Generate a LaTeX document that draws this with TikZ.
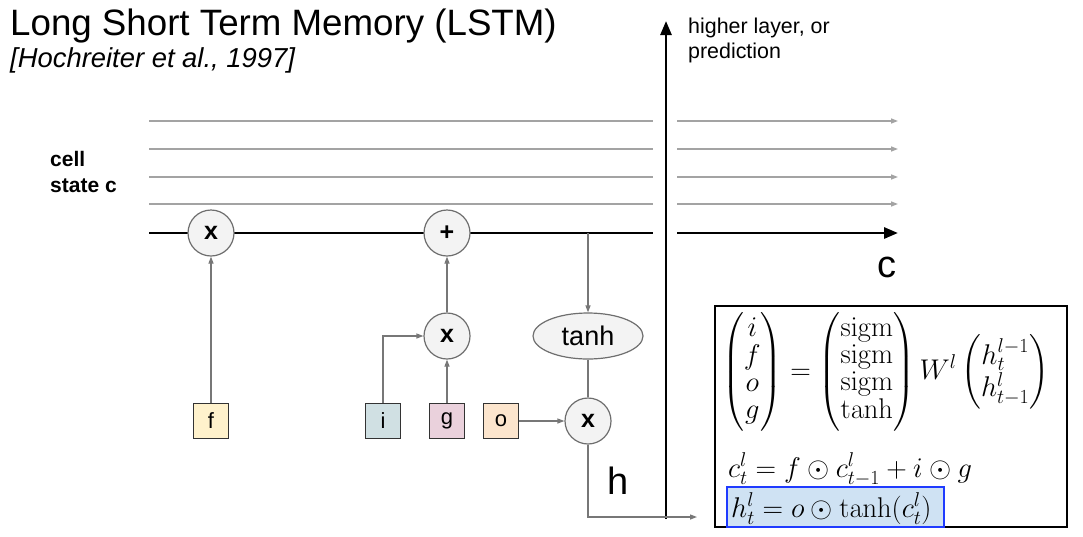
\RequirePackage{fix-cm}
\documentclass[tikz,border=0pt]{standalone}
\usepackage{amsmath}
\usepackage[no-math]{fontspec}
\setmainfont{Liberation Sans}
\usetikzlibrary{arrows.meta,shapes.geometric}
\definecolor{cgray}{HTML}{777777}
\definecolor{lgray}{HTML}{A3A3A3}
\definecolor{nodefill}{HTML}{F3F3F3}
\definecolor{nodeedge}{HTML}{6E6E6E}
\definecolor{fcol}{HTML}{FFF2CC}
\definecolor{icol}{HTML}{D0E0E3}
\definecolor{gcol}{HTML}{EAD1DC}
\definecolor{ocol}{HTML}{FCE5CD}
\definecolor{hlfill}{HTML}{CFE2F3}
\definecolor{hlblue}{HTML}{1F3BFF}
\tikzset{
  op/.style={circle, draw=nodeedge, line width=1.2, fill=nodefill, minimum size=46, inner sep=0, font=\fontsize{25}{30}\selectfont\bfseries},
  fn/.style={ellipse, draw=nodeedge, line width=1.2, fill=nodefill, minimum width=110, minimum height=46, inner sep=0, font=\fontsize{27}{30}\selectfont},
  gate/.style={rectangle, draw=black!80, line width=1.5, minimum width=35, minimum height=35, inner sep=0, font=\fontsize{22}{26}\selectfont},
  conn/.style={draw=cgray, line width=1.2, -{Triangle[length=7,width=5]}},
  plainconn/.style={draw=cgray, line width=1.2},
  stateline/.style={draw=lgray, line width=1.3},
  statearrow/.style={draw=lgray, line width=1.3, -{Triangle[length=7,width=5]}},
  mainline/.style={draw=black, line width=2.8},
  mainarrow/.style={draw=black, line width=2.8, -{Triangle[length=14,width=11]}},
  lbl/.style={anchor=base west, inner sep=0},
  mathfont/.style={font=\fontsize{28.5}{34.2}\selectfont},
}
\begin{document}
\begin{tikzpicture}[x=1pt,y=-1pt]
\useasboundingbox[fill=white] (0,0) rectangle (1083,536);

% title
\node[lbl, font=\fontsize{36.7}{40}\selectfont] (title) at (10,35) {Long Short Term Memory (LSTM)};
\node[lbl, font=\fontsize{27.4}{30}\selectfont\itshape] (sub) at (10,67) {[Hochreiter et al., 1997]};

% cell state label
\node[lbl, font=\fontsize{21}{26}\selectfont\bfseries] (cell1) at (50,166) {cell};
\node[lbl, font=\fontsize{21}{26}\selectfont\bfseries] (cell2) at (50,192) {state c};

% higher layer label
\node[lbl, font=\fontsize{21.4}{26}\selectfont] (hl1) at (688,33) {higher layer, or};
\node[lbl, font=\fontsize{21.4}{26}\selectfont] (hl2) at (688,58) {prediction};

% thin state lines
\foreach \yy/\n in {121/1,149/2,177/3,204/4}{
  \coordinate (sa\n) at (149,\yy);
  \coordinate (sb\n) at (653,\yy);
  \coordinate (sc\n) at (677,\yy);
  \coordinate (sd\n) at (898,\yy);
  \draw[stateline] (sa\n) -- (sb\n);
  \draw[statearrow] (sc\n) -- (sd\n);
}

% main cell line
\coordinate (ma) at (149,233);
\coordinate (mb) at (653,233);
\coordinate (mc) at (677,233);
\coordinate (md) at (898,233);
\draw[mainline] (ma) -- (mb);
\draw[mainarrow] (mc) -- (md);

% vertical output arrow
\coordinate (vb) at (666,519);
\coordinate (vt) at (666,21);
\draw[draw=black, line width=2.6, -{Triangle[length=14,width=11]}] (vb) -- (vt);

% operation nodes
\node[op] (m1) at (211,233) {x};
\node[op] (plus) at (447,233) {+};
\node[op] (m2) at (447,336) {x};
\node[fn] (th) at (588,336) {tanh};
\node[op] (m3) at (588,421) {x};

% gates
\node[gate, fill=fcol] (f) at (211,421) {f};
\node[gate, fill=icol] (i) at (383,421) {i};
\node[gate, fill=gcol] (g) at (447,421) {g};
\node[gate, fill=ocol] (o) at (501,421) {o};

% connectors
\coordinate (tap) at (588,233);
\coordinate (hend) at (697,517);
\draw[conn] (f.north) -- (m1.south);
\draw[conn] (i.north) |- (m2.west);
\draw[conn] (g.north) -- (m2.south);
\draw[conn] (m2.north) -- (plus.south);
\draw[conn] (o.east) -- (m3.west);
\draw[conn] (tap) -- (th.north);
\draw[plainconn] (th.south) -- (m3.north);
\draw[conn] (m3.south) |- (hend);

% big labels
\node[anchor=base, inner sep=0, font=\fontsize{38}{40}\selectfont] (clab) at (887,277) {c};
\node[anchor=base, inner sep=0, font=\fontsize{38}{40}\selectfont] (hlab) at (618,494) {h};

% equation box
\draw[draw=black, line width=2] (715,306) rectangle (1067,527);
\draw[draw=hlblue, fill=hlfill, line width=1.8] (727,487) rectangle (944,527);
\node[anchor=west, inner sep=0, mathfont] (eq1) at (722,372)
  {$\renewcommand{\arraystretch}{0.8}\begin{pmatrix}i\\f\\o\\g\end{pmatrix}=\begin{pmatrix}\mathrm{sigm}\\\mathrm{sigm}\\\mathrm{sigm}\\\tanh\end{pmatrix}W^l\begin{pmatrix}h_t^{l-1}\\h_{t-1}^l\end{pmatrix}$};
\node[lbl, mathfont] (eq2) at (728,477) {$c_t^l=f\odot c_{t-1}^l+i\odot g$};
\node[lbl, mathfont] (eq3) at (731,517) {$h_t^l=o\odot\tanh(c_t^l)$};
\end{tikzpicture}
\end{document}
